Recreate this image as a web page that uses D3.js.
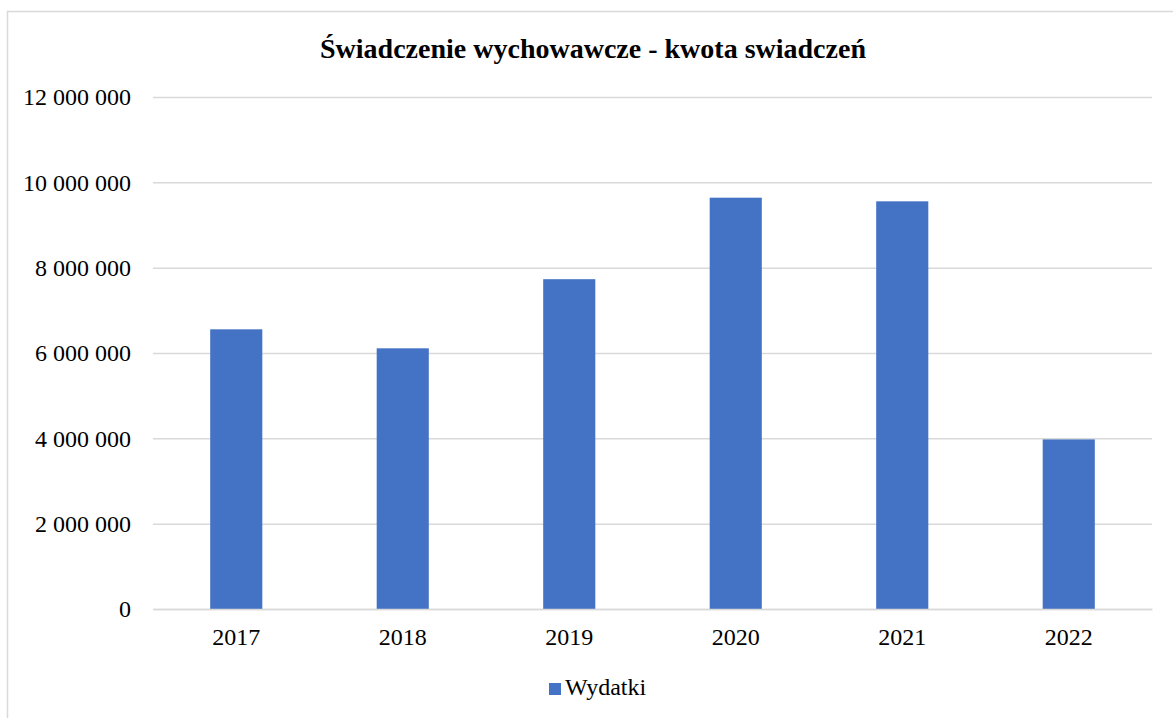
<!DOCTYPE html>
<html>
<head>
<meta charset="utf-8">
<script src="https://cdn.jsdelivr.net/npm/d3@7"></script>
<style>
  body { margin: 0; background: #fff; }
</style>
</head>
<body>
<div id="chart"></div>
<script>
// Dane
const years = ["2017", "2018", "2019", "2020", "2021", "2022"];
const wydatki = [6555000, 6110000, 7730000, 9640000, 9555000, 3975000];
const yTicks = [0, 2000000, 4000000, 6000000, 8000000, 10000000, 12000000];
const seriesName = "Wydatki";
const chartTitle = "Świadczenie wychowawcze - kwota swiadczeń";

const FONT = "Liberation Serif, Times New Roman, Tinos, DejaVu Serif, serif";

const W = 1173, H = 718;
const margin = { top: 97, right: 21, bottom: 109, left: 153 };
const width = W - margin.left - margin.right,
      height = H - margin.top - margin.bottom;

const svg = d3.select("#chart").append("svg")
    .attr("width", W)
    .attr("height", H)
    .attr("font-family", FONT);

// Ramka wykresu
svg.append("rect")
    .attr("x", 7.5).attr("y", 11.5)
    .attr("width", W + 10).attr("height", H + 10)
    .attr("fill", "none")
    .attr("stroke", "#d9d9d9")
    .attr("stroke-width", 1.5);

const g = svg.append("g")
    .attr("transform", `translate(${margin.left},${margin.top})`);

const xScale = d3.scaleBand()
    .domain(years)
    .range([0, width])
    .paddingInner(0.687)
    .paddingOuter(0.3435);

const yScale = d3.scaleLinear()
    .domain([0, 12000000])
    .range([height, 0]);

const fmt = v => d3.format(",")(v).replace(/,/g, " ");

// Siatka
const yAxis = g.append("g")
    .call(d3.axisLeft(yScale).tickValues(yTicks).tickSize(-width).tickPadding(22).tickFormat(fmt))
    .attr("font-family", FONT)
    .attr("font-size", 24);
yAxis.select(".domain").remove();
yAxis.selectAll(".tick line").attr("stroke", "#d9d9d9").attr("stroke-width", 1.5);
yAxis.selectAll(".tick text").attr("fill", "#000");

// Słupki
g.selectAll(".bar")
    .data(years.map((y, i) => ({ year: y, value: wydatki[i] })))
    .enter().append("rect")
    .attr("class", "bar")
    .attr("x", d => xScale(d.year))
    .attr("y", d => yScale(d.value))
    .attr("width", xScale.bandwidth())
    .attr("height", d => height - yScale(d.value))
    .attr("fill", "#4472c4");

// Oś X
const xAxis = g.append("g")
    .attr("transform", `translate(0,${height})`)
    .call(d3.axisBottom(xScale).tickSize(0).tickPadding(19))
    .attr("font-family", FONT)
    .attr("font-size", 24);
xAxis.select(".domain").attr("stroke", "#d9d9d9").attr("stroke-width", 1.5);
xAxis.selectAll(".tick text").attr("fill", "#000");

// Tytuł
svg.append("text")
    .attr("x", 593)
    .attr("y", 58)
    .attr("text-anchor", "middle")
    .attr("font-size", 28)
    .attr("font-weight", "bold")
    .text(chartTitle);

// Legenda
const legend = svg.append("g").attr("transform", "translate(549,683)");
legend.append("rect")
    .attr("width", 12).attr("height", 12)
    .attr("fill", "#4472c4");
legend.append("text")
    .attr("x", 16).attr("y", 12)
    .attr("font-size", 24)
    .text(seriesName);
</script>
</body>
</html>
